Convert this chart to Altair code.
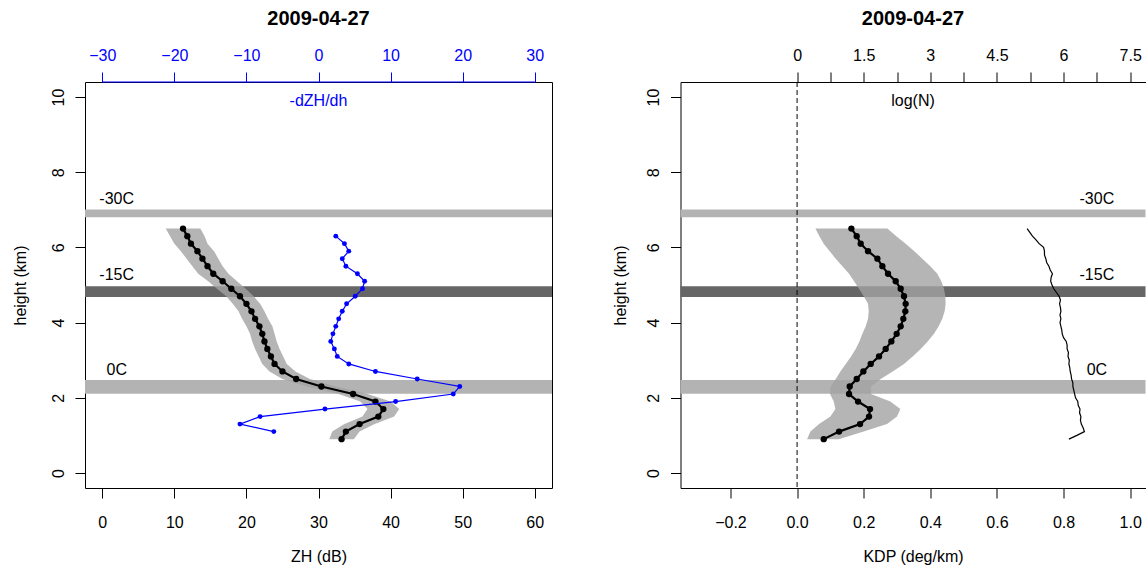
import altair as alt
import pandas as pd

date_title = "2009-04-27"

# ---- left panel data: ZH profile (dB) and -dZH/dh ----
heights = [0.9, 1.1, 1.3, 1.5, 1.7, 1.9, 2.1, 2.3, 2.5, 2.7, 2.9, 3.1, 3.3, 3.5, 3.7,
           3.9, 4.1, 4.3, 4.5, 4.7, 4.9, 5.1, 5.3, 5.5, 5.7, 5.9, 6.1, 6.3, 6.5]
zh = [33.2, 33.8, 35.7, 38.3, 39.0, 37.9, 34.8, 30.4, 26.9, 25.0, 23.9, 23.4, 22.9, 22.5, 22.2,
      21.8, 21.2, 20.7, 20.0, 19.1, 17.9, 16.7, 15.4, 14.6, 13.9, 13.2, 12.3, 11.8, 11.2]
zh_sd = [1.7, 1.9, 2.1, 2.2, 2.2, 2.1, 2.0, 2.0, 1.9, 1.8, 1.7, 1.7, 1.7, 1.7, 1.7,
         1.8, 1.8, 1.8, 1.9, 1.9, 2.0, 2.0, 2.1, 2.1, 2.2, 2.3, 2.3, 2.4, 2.4]

dzh_heights = [1.1, 1.3, 1.5, 1.7, 1.9, 2.1, 2.3, 2.5, 2.7, 2.9, 3.1, 3.3, 3.5, 3.7,
               3.9, 4.1, 4.3, 4.5, 4.7, 4.9, 5.1, 5.3, 5.5, 5.7, 5.9, 6.1, 6.3]
dzh = [-6.2, -10.9, -8.1, 0.9, 10.7, 18.7, 19.6, 13.7, 7.9, 4.2, 2.6, 2.2, 1.7, 2.0,
       2.4, 2.8, 3.3, 3.9, 5.1, 6.1, 6.4, 5.4, 3.8, 3.3, 4.2, 3.6, 2.4]

# ---- right panel data: KDP profile (deg/km) and log(N) ----
kdp = [0.080, 0.126, 0.189, 0.216, 0.219, 0.183, 0.156, 0.158, 0.179, 0.199, 0.221, 0.246,
       0.266, 0.283, 0.299, 0.311, 0.319, 0.325, 0.326, 0.321, 0.311, 0.296, 0.273, 0.256,
       0.241, 0.213, 0.191, 0.179, 0.163]
kdp_lo = [0.030, 0.040, 0.066, 0.100, 0.115, 0.110, 0.099, 0.101, 0.116, 0.130, 0.146, 0.162,
          0.176, 0.187, 0.196, 0.206, 0.213, 0.215, 0.213, 0.200, 0.186, 0.171, 0.156, 0.136,
          0.116, 0.098, 0.080, 0.067, 0.055]
kdp_hi = [0.125, 0.200, 0.270, 0.300, 0.310, 0.280, 0.222, 0.222, 0.251, 0.287, 0.321, 0.347,
          0.371, 0.392, 0.411, 0.425, 0.436, 0.443, 0.446, 0.445, 0.441, 0.433, 0.421, 0.400,
          0.376, 0.352, 0.326, 0.298, 0.271]

logn_heights = [0.9, 1.0, 1.1, 1.2, 1.3, 1.4, 1.5, 1.6, 1.7, 1.8, 1.9, 2.0, 2.1, 2.2, 2.3,
                2.4, 2.5, 2.6, 2.7, 2.8, 2.9, 3.0, 3.1, 3.2, 3.3, 3.4, 3.5, 3.6, 3.7, 3.8,
                3.9, 4.0, 4.1, 4.2, 4.3, 4.4, 4.5, 4.6, 4.7, 4.8, 4.9, 5.0, 5.1, 5.2, 5.3,
                5.4, 5.5, 5.6, 5.7, 5.8, 5.9, 6.0, 6.1, 6.2, 6.3, 6.4, 6.5]
logn = [6.12, 6.30, 6.47, 6.44, 6.40, 6.38, 6.39, 6.36, 6.37, 6.33, 6.32, 6.27, 6.25, 6.23, 6.21,
        6.21, 6.18, 6.17, 6.15, 6.14, 6.12, 6.13, 6.10, 6.11, 6.08, 6.08, 6.06, 6.00, 5.97, 5.96,
        5.94, 5.92, 5.94, 5.92, 5.94, 5.93, 5.91, 5.93, 5.90, 5.84, 5.78, 5.74, 5.71, 5.72, 5.75,
        5.70, 5.67, 5.62, 5.60, 5.57, 5.57, 5.55, 5.45, 5.38, 5.30, 5.24, 5.18]

# ---- temperature levels ----
band_names = ["-30C", "-15C", "0C"]
band_lo = [6.80, 4.68, 2.11]
band_hi = [7.01, 4.97, 2.47]
band_kind = ["light", "dark", "light"]
band_label_h = [7.29, 5.27, 2.73]
band_label_zh = [2.0, 2.0, 2.0]
band_label_kdp = [0.9, 0.9, 0.9]

# ---- axes ticks ----
h_ticks = [0, 2, 4, 6, 8, 10]
zh_ticks = [0, 10, 20, 30, 40, 50, 60]
dzh_ticks = [-30, -20, -10, 0, 10, 20, 30]
kdp_ticks = [-0.2, 0.0, 0.2, 0.4, 0.6, 0.8, 1.0]
logn_ticks = [0, 0.75, 1.5, 2.25, 3, 3.75, 4.5, 5.25, 6, 6.75, 7.5]
kdp_zero = [0.0]

FONT = "Liberation Sans"
FS = 16
W1, W2, H = 467, 465, 406
YDOM = [-0.4, 10.4]
BLUE = "#0000ff"


def y_axis(title_x, domain):
    return alt.Axis(values=h_ticks, format="d", labelAngle=270, labelAlign="center",
                    labelBaseline="middle", tickSize=10, labelPadding=17, domain=domain,
                    domainColor="black", grid=False, labelFlush=False, labelOverlap=False,
                    title="height (km)", titleAngle=270, titleX=title_x, titleY=H / 2,
                    titleAlign="center", titleBaseline="middle")


def yenc(field, axis):
    return alt.Y(f"{field}:Q", scale=alt.Scale(domain=YDOM, nice=False, zero=False), axis=axis)


def panel(width, xfield_scale, xaxis, prof_df, band_x_col, yax, top_text, extra_layers):
    xs = xfield_scale

    def xenc(field):
        return alt.X(f"{field}:Q", scale=xs, axis=xaxis)

    bands_df = pd.DataFrame({"name": band_names, "lo": band_lo, "hi": band_hi,
                             "kind": band_kind, "lh": band_label_h, "lx": band_x_col})
    bands = alt.Chart(bands_df).mark_rect().encode(
        x=alt.value(0), x2=alt.value(width),
        y=yenc("lo", yax), y2="hi",
        color=alt.Color("kind:N", scale=alt.Scale(domain=["light", "dark"],
                                                   range=["#b3b3b3", "#666666"]), legend=None))
    labels = alt.Chart(bands_df).mark_text(font=FONT, fontSize=FS, align="center",
                                           baseline="middle", color="black").encode(
        x=xenc("lx"), y=yenc("lh", yax), text="name:N")
    area = alt.Chart(prof_df).mark_area(orient="horizontal", color="#a3a3a3", opacity=0.8).encode(
        y=yenc("h", yax), x=xenc("lo"), x2="hi")
    line = alt.Chart(prof_df).mark_line(
        color="black", strokeWidth=2.2,
        point=alt.OverlayMarkDef(filled=True, size=40, color="black", opacity=1)).encode(
        y=yenc("h", yax), x=xenc("v"), order=alt.Order("h:Q"))
    one = pd.DataFrame({"a": [0]})
    title = alt.Chart(one).mark_text(font=FONT, fontSize=20, fontWeight="bold", align="center",
                                     baseline="middle", color="black").encode(
        x=alt.value(width / 2), y=alt.value(-63), text=alt.value(date_title))
    ttxt = alt.Chart(one).mark_text(font=FONT, fontSize=FS, align="center", baseline="middle",
                                    color=top_text[1]).encode(
        x=alt.value(width / 2), y=alt.value(19), text=alt.value(top_text[0]))
    return alt.layer(bands, area, labels, *extra_layers(xenc), line, title, ttxt)


# ---------------- left panel ----------------
zh_scale = alt.Scale(domain=[-2.4, 62.4], nice=False, zero=False)
zh_axis = alt.Axis(values=zh_ticks, format="d", tickSize=10, labelPadding=24, labelBaseline="middle",
                   domain=False, grid=False, labelFlush=False, labelOverlap=False,
                   title="ZH (dB)", titleX=W1 / 2, titleY=68, titleAlign="center",
                   titleBaseline="middle")
zh_df = pd.DataFrame({"h": heights, "v": zh})
zh_df["lo"] = zh_df["v"] - pd.Series(zh_sd)
zh_df["hi"] = zh_df["v"] + pd.Series(zh_sd)
yax_l = y_axis(-64.5, False)


def left_extra(xenc):
    anchor = alt.Chart(pd.DataFrame({"a": [0]})).mark_rule(color="white", strokeWidth=1).encode(
        x=alt.value(-84), x2=alt.value(-84), y=alt.value(-80.5), y2=alt.value(-80))
    return [anchor]


left_inner = panel(W1, zh_scale, zh_axis, zh_df, band_label_zh, yax_l, ("-dZH/dh", BLUE), left_extra)

dzh_scale = alt.Scale(domain=[-32.4, 32.4], nice=False, zero=False)
dzh_axis = alt.Axis(orient="top", values=dzh_ticks, format="d", tickSize=10, labelPadding=17,
                    labelBaseline="middle", domain=False, grid=False, labelFlush=False,
                    labelOverlap=False, labelColor=BLUE, tickColor=BLUE, title=None)
dzh_df = pd.DataFrame({"h": dzh_heights, "d": dzh})
seg_df = pd.DataFrame({"a": [min(dzh_ticks)], "b": [max(dzh_ticks)]})
blue_seg = alt.Chart(seg_df).mark_rule(color=BLUE, strokeWidth=1).encode(
    x=alt.X("a:Q", scale=dzh_scale, axis=dzh_axis), x2="b:Q", y=alt.value(0))
blue_line = alt.Chart(dzh_df).mark_line(
    color=BLUE, strokeWidth=1.2,
    point=alt.OverlayMarkDef(filled=True, size=24, color=BLUE, opacity=1)).encode(
    x=alt.X("d:Q", scale=dzh_scale, axis=dzh_axis), y=yenc("h", yax_l), order=alt.Order("h:Q"))

left = alt.layer(left_inner, alt.layer(blue_seg, blue_line)).resolve_scale(
    x="independent").properties(width=W1, height=H,
                                view=alt.ViewBackground(stroke="black", strokeWidth=1))

# ---------------- right panel ----------------
KDP_DOM = [-0.35, 1.046]
kdp_scale = alt.Scale(domain=KDP_DOM, nice=False, zero=False)
kdp_axis = alt.Axis(values=kdp_ticks, format=".1f", tickSize=10, labelPadding=24,
                    labelBaseline="middle", domain=True, domainColor="black", grid=False,
                    labelFlush=False, labelOverlap=False, title="KDP (deg/km)", titleX=W2 / 2,
                    titleY=68, titleAlign="center", titleBaseline="middle")
kdp_df = pd.DataFrame({"h": heights, "v": kdp, "lo": kdp_lo, "hi": kdp_hi})
yax_r = y_axis(-60, True)


def right_extra(xenc):
    zero = alt.Chart(pd.DataFrame({"z": kdp_zero})).mark_rule(
        color="black", strokeWidth=1, strokeDash=[5, 3]).encode(
        x=xenc("z"), y=alt.value(0), y2=alt.value(H))
    return [zero]


right_inner = panel(W2, kdp_scale, kdp_axis, kdp_df, band_label_kdp, yax_r, ("log(N)", "black"),
                    right_extra)

logn_scale = alt.Scale(domain=[KDP_DOM[0] * 7.5, KDP_DOM[1] * 7.5], nice=False, zero=False)
logn_axis = alt.Axis(orient="top", values=logn_ticks,
                     labelExpr="(datum.value * 2) % 3 === 0 ? format(datum.value, '~g') : ''",
                     tickSize=10, labelPadding=17, labelBaseline="middle", domain=True,
                     domainColor="black", grid=False, labelFlush=False, labelOverlap=False,
                     title=None)
logn_df = pd.DataFrame({"h": logn_heights, "n": logn})
logn_line = alt.Chart(logn_df).mark_line(color="black", strokeWidth=1.2).encode(
    x=alt.X("n:Q", scale=logn_scale, axis=logn_axis), y=yenc("h", yax_r), order=alt.Order("h:Q"))

right = alt.layer(right_inner, logn_line).resolve_scale(x="independent").properties(
    width=W2, height=H)

chart = alt.hconcat(left, right, spacing=128.5, bounds="flush").properties(
    padding=0
).configure_view(stroke="transparent").configure_axis(
    labelFont=FONT, titleFont=FONT, labelFontSize=FS, titleFontSize=FS, labelColor="black",
    titleColor="black", tickColor="black", tickWidth=1, titleFontWeight="normal",
    domainColor="black"
).configure_text(font=FONT)

chart.save("out.html", embed_options={"renderer": "svg", "actions": False})
